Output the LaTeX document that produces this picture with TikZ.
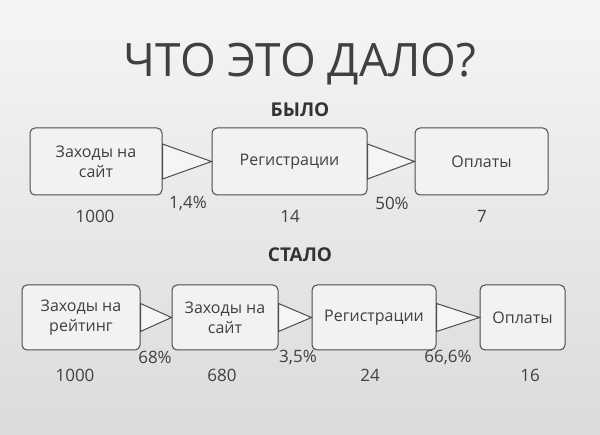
\documentclass[tikz,border=0pt]{standalone}
\usepackage{fontspec}
\setmainfont{Open Sans}
\begin{document}
\begin{tikzpicture}[x=1pt,y=-1pt,
  box/.style={draw=black!70,line width=1pt,rounded corners=5pt,fill=black!5,align=center,font=\fontsize{16}{20}\selectfont\color{black!75},inner sep=2pt},
  lbl/.style={font=\fontsize{17}{19}\selectfont\color{black!75}},
  wedge/.style={draw=black!70,line width=1pt,fill=black!4}]
\shade[top color=black!4,bottom color=black!14] (0,0) rectangle (600,435);
\useasboundingbox (0,0) rectangle (600,435);
\node[font=\fontsize{46}{50}\selectfont\color{black!75}] (title) at (300,64) {ЧТО ЭТО ДАЛО?};
\node[font=\bfseries\fontsize{19}{21}\selectfont\color{black!80}] (was) at (300,110) {БЫЛО};
\node[font=\bfseries\fontsize{19}{21}\selectfont\color{black!80}] (now) at (300,255) {СТАЛО};
% row 1
\node[box,minimum width=132pt,minimum height=67pt] (a1) at (96,161.5) {Заходы на\\сайт};
\node[box,minimum width=155pt,minimum height=67pt] (a2) at (289.5,161.5) {Регистрации};
\node[box,minimum width=133pt,minimum height=67pt] (a3) at (481.5,161.5) {Оплаты};
\draw[wedge] ([yshift=-17.5pt]a1.east) -- (a2.west) -- ([yshift=17.5pt]a1.east) -- cycle;
\draw[wedge] ([yshift=-17.5pt]a2.east) -- (a3.west) -- ([yshift=17.5pt]a2.east) -- cycle;
\node[lbl] (p1) at (188,203) {1,4\%};
\node[lbl] (p2) at (392,203) {50\%};
\node[lbl] (n1) at (95,216) {1000};
\node[lbl] (n2) at (290,216) {14};
\node[lbl] (n3) at (482,216) {7};
% row 2
\node[box,minimum width=118pt,minimum height=65pt] (b1) at (81,317.5) {Заходы на\\рейтинг};
\node[box,minimum width=106pt,minimum height=65pt] (b2) at (225,317.5) {Заходы на\\сайт};
\node[box,minimum width=124pt,minimum height=65pt,inner sep=1pt] (b3) at (374,317.5) {Регистрации};
\node[box,minimum width=85pt,minimum height=65pt] (b4) at (522.5,317.5) {Оплаты};
\draw[wedge] ([yshift=-14pt]b1.east) -- (b2.west) -- ([yshift=14pt]b1.east) -- cycle;
\draw[wedge] ([yshift=-14pt]b2.east) -- (b3.west) -- ([yshift=14pt]b2.east) -- cycle;
\draw[wedge] ([yshift=-14pt]b3.east) -- (b4.west) -- ([yshift=14pt]b3.east) -- cycle;
\node[lbl] (q1) at (155,357) {68\%};
\node[lbl] (q2) at (298,357) {3,5\%};
\node[lbl] (q3) at (448,357) {66,6\%};
\node[lbl] (m1) at (75,375) {1000};
\node[lbl] (m2) at (222,375) {680};
\node[lbl] (m3) at (370,375) {24};
\node[lbl] (m4) at (530,375) {16};
\end{tikzpicture}
\end{document}
